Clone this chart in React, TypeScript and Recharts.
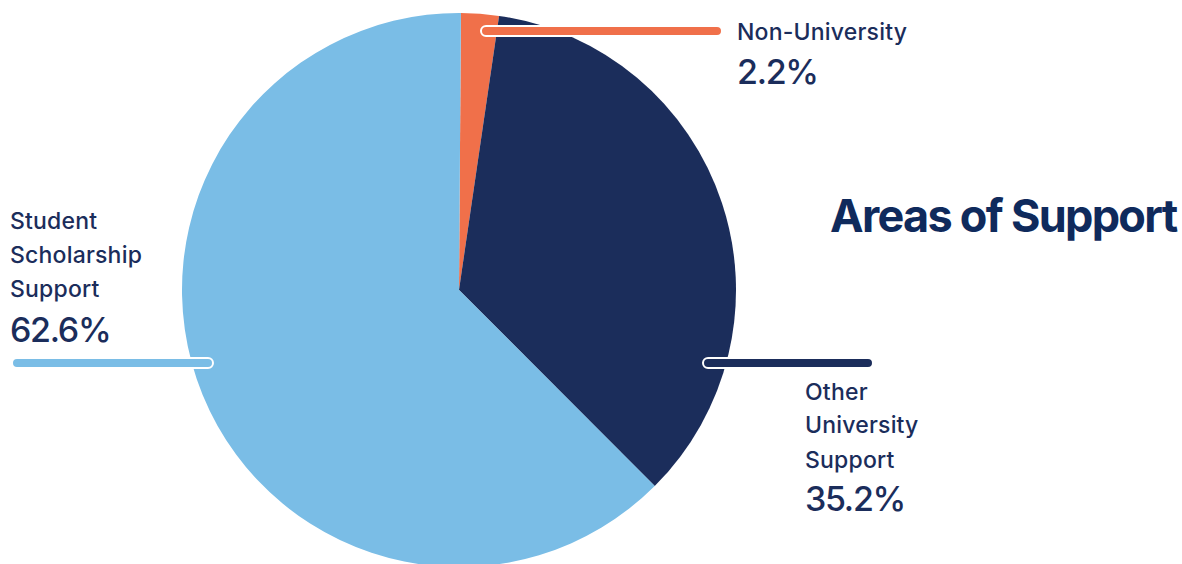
import { Cell, Pie, PieChart } from "recharts";

const categories = ["Non-University", "Other University Support", "Student Scholarship Support"];
const shares = [2.2, 35.2, 62.6];
const colors = ["#f0704a", "#1b2d5b", "#7abde6"];

const NAVY = "#1b2d5b";
const FONT = "Inter, 'Noto Sans', sans-serif";

// leader line + text block for each slice
const LABEL_LAYOUT: Record<string, { x1: number; x2: number; y: number; tx: number; lines: string[]; ty: number[] }> = {
  "Non-University": { x1: 481, x2: 722, y: 31, tx: 737, lines: ["Non-University"], ty: [40, 84] },
  "Other University Support": {
    x1: 703,
    x2: 873,
    y: 363,
    tx: 805,
    lines: ["Other", "University", "Support"],
    ty: [400, 433, 468, 511]
  },
  "Student Scholarship Support": {
    x1: 12,
    x2: 213,
    y: 363,
    tx: 10,
    lines: ["Student", "Scholarship", "Support"],
    ty: [229, 263, 297, 342]
  }
};

const data = categories.map((name, i) => ({ name, value: shares[i] }));

function SliceLabel(props: any) {
  const name = props.name ?? props.payload?.name;
  const layout = LABEL_LAYOUT[name];
  if (!layout) return null;
  const color = colors[categories.indexOf(name)];
  const pct = `${props.value.toFixed(1)}%`;
  return (
    <g>
      <rect
        x={layout.x1}
        y={layout.y - 5}
        width={layout.x2 - layout.x1}
        height={10}
        rx={5}
        fill={color}
        stroke="#ffffff"
        strokeWidth={2}
      />
      {layout.lines.map((line, i) => (
        <text
          key={line}
          x={layout.tx}
          y={layout.ty[i]}
          fill={NAVY}
          fontFamily={FONT}
          fontSize={23}
          fontWeight={500}
          letterSpacing={0.2}
        >
          {line}
        </text>
      ))}
      <text
        x={layout.tx}
        y={layout.ty[layout.ty.length - 1]}
        fill={NAVY}
        fontFamily={FONT}
        fontSize={34}
        fontWeight={500}
        letterSpacing={-1.3}
      >
        {pct}
      </text>
    </g>
  );
}

export default function App() {
  return (
    <div style={{ position: "absolute", left: 0, top: 0, width: 1182, height: 564, background: "#fff", overflow: "hidden" }}>
      <PieChart width={1182} height={564} margin={{ top: 0, right: 0, bottom: 0, left: 0 }}>
        <Pie
          data={data}
          dataKey="value"
          nameKey="name"
          cx={459}
          cy={290}
          outerRadius={277}
          startAngle={89.6}
          endAngle={-270.4}
          stroke="none"
          label={SliceLabel}
          labelLine={false}
          isAnimationActive={false}
        >
          {data.map((d, i) => (
            <Cell key={d.name} fill={colors[i]} />
          ))}
        </Pie>
      </PieChart>
      <div
        style={{
          position: "absolute",
          left: 830,
          top: 188,
          fontFamily: FONT,
          fontSize: 45,
          fontWeight: 700,
          letterSpacing: -1.7,
          color: "#0f2a5c",
          whiteSpace: "nowrap",
          lineHeight: "56px"
        }}
      >
        Areas of Support
      </div>
    </div>
  );
}
